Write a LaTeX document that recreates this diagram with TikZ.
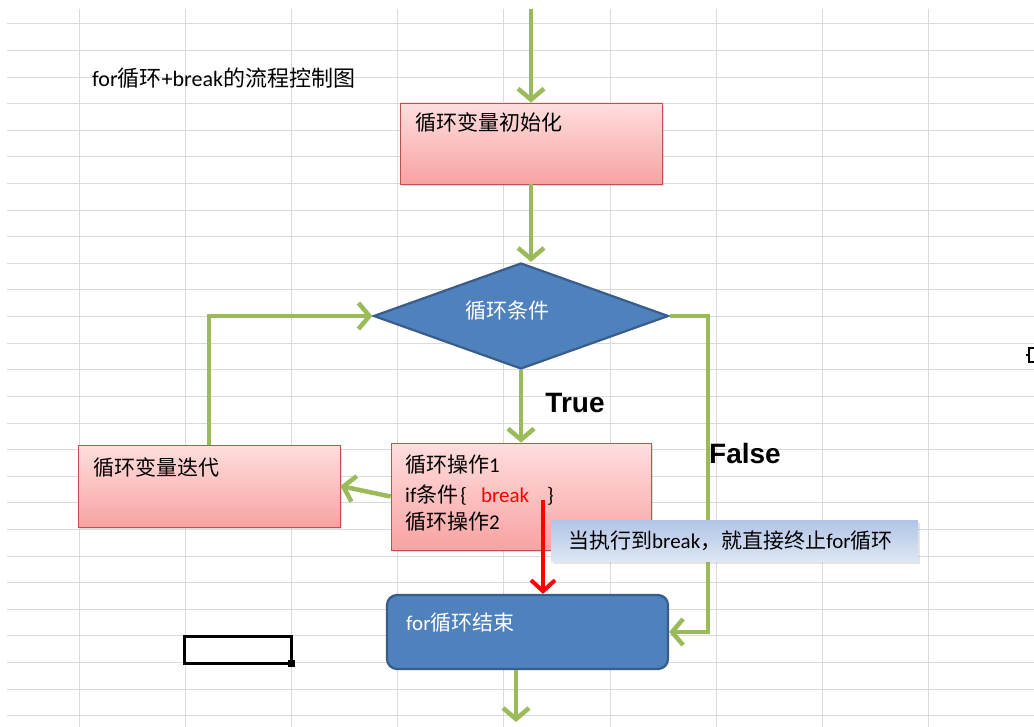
\documentclass[tikz,border=0pt]{standalone}
\usepackage{fontspec}
\setmainfont{Carlito}
\setsansfont{Liberation Sans}
\newfontfamily\cjk{Noto Sans CJK SC}
\usetikzlibrary{shapes.geometric,arrows.meta,shadows,calc}
\definecolor{gline}{HTML}{9BBB59}
\definecolor{gridc}{HTML}{D9DADB}
\definecolor{pinkt}{HTML}{FFDEDE}
\definecolor{pinkb}{HTML}{F8A2A2}
\definecolor{pinkd}{HTML}{C0504D}
\definecolor{blueF}{HTML}{4F81BD}
\definecolor{blueD}{HTML}{385D8A}
\definecolor{notet}{HTML}{B2C5E6}
\definecolor{noteb}{HTML}{DDE6F4}
\begin{document}
\begin{tikzpicture}[x=1pt,y=-1pt,
  gridline/.style={gridc,line width=1pt},
  flow/.style={gline,line width=4.5pt,-{Straight Barb[length=11pt,width=26pt]}},
  redflow/.style={red,line width=4pt,-{Straight Barb[length=11pt,width=24pt]}},
  pinkbox/.style={draw=pinkd,line width=0.8pt,top color=pinkt,bottom color=pinkb,inner sep=0pt,
    drop shadow={opacity=0.25,shadow xshift=2pt,shadow yshift=-2pt}},
  bluebox/.style={draw=blueD,line width=2.2pt,fill=blueF,inner sep=0pt},
  txt/.style={inner sep=0pt,anchor=west,font=\fontsize{21}{28}\selectfont},
  big/.style={inner sep=0pt,font=\sffamily\bfseries\fontsize{28}{30}\selectfont},
  notebox/.style={top color=notet,bottom color=noteb,inner sep=0pt,
    drop shadow={opacity=0.2,shadow xshift=2pt,shadow yshift=-2pt}}
]
\useasboundingbox (0,0) rectangle (1034,727);
\fill[white] (0,0) rectangle (1034,727);
\foreach \k in {0,...,26} \draw[gridline] (7,{24+26.6*\k}) -- (1034,{24+26.6*\k});
\foreach \k in {0,...,9} \draw[gridline] ({79+106.2*\k},9) -- ({79+106.2*\k},727);

% title
\node[txt,font=\fontsize{22}{28}\selectfont] (title) at (92,78) {for{\cjk 循环}+break{\cjk 的流程控制图}};

% boxes
\node[pinkbox,minimum width=262pt,minimum height=81pt] (init) at (531,143.5) {};
\node[txt] (initt) at (415,123) {\cjk 循环变量初始化};

\node[diamond,bluebox,minimum width=295pt,minimum height=106pt] (cond) at (521,316) {};
\node[txt,white] (condt) at (465,311) {\cjk 循环条件};

\node[pinkbox,minimum width=260pt,minimum height=107pt] (body) at (521,496.5) {};
\node[txt] (b1) at (405,465) {{\cjk 循环操作}1};
\node[txt] (b2) at (405,495) {if{\cjk 条件}\hspace{2pt}\{\hspace{14pt}\textcolor{red}{break}\hspace{18pt}\}};
\node[txt] (b3) at (405,522) {{\cjk 循环操作}2};

\node[pinkbox,minimum width=262pt,minimum height=82pt] (iter) at (209,486) {};
\node[txt] (itert) at (93,468) {\cjk 循环变量迭代};

\node[bluebox,rounded corners=10pt,minimum width=281pt,minimum height=74pt] (done) at (527.5,632) {};
\node[txt,white] (donet) at (406,623) {for{\cjk 循环结束}};

% connectors
\coordinate (top) at (531,9);
\draw[flow] (top) -- (top |- init.north);
\draw[flow] (init.south) -- (init.south |- cond.north);
\draw[flow] (cond.south) -- (body.north);
\draw[flow] (body.west) -- (iter.east);
\draw[flow] (iter.north) |- (cond.west);
\coordinate (fx) at (708,450);
\draw[flow] (cond.east) -| (fx) |- (done.east);
\coordinate (bend) at (516,722);
\draw[flow] (bend |- done.south) -- (bend);
\coordinate (brk) at (543,500);
\draw[redflow] (brk) -- (brk |- done.north);

% labels
\node[big] (truel) at (575,403) {True};
\node[big] (falsel) at (745,453) {False};

% callout
\node[notebox,minimum width=367pt,minimum height=41pt] (note) at (734.5,541) {};
\node[txt] (notet) at (568,541) {{\cjk 当执行到}break{\cjk ，就直接终止}for{\cjk 循环}};

% selected cell
\draw[line width=3pt] (184,636) rectangle (291,663);
\fill (288,660) rectangle (295,667);

% edge icon
\draw[line width=1.2pt] (1029,348) rectangle (1036,362);
\draw[line width=1.2pt] (1026,355) -- (1029,355);
\end{tikzpicture}
\end{document}
